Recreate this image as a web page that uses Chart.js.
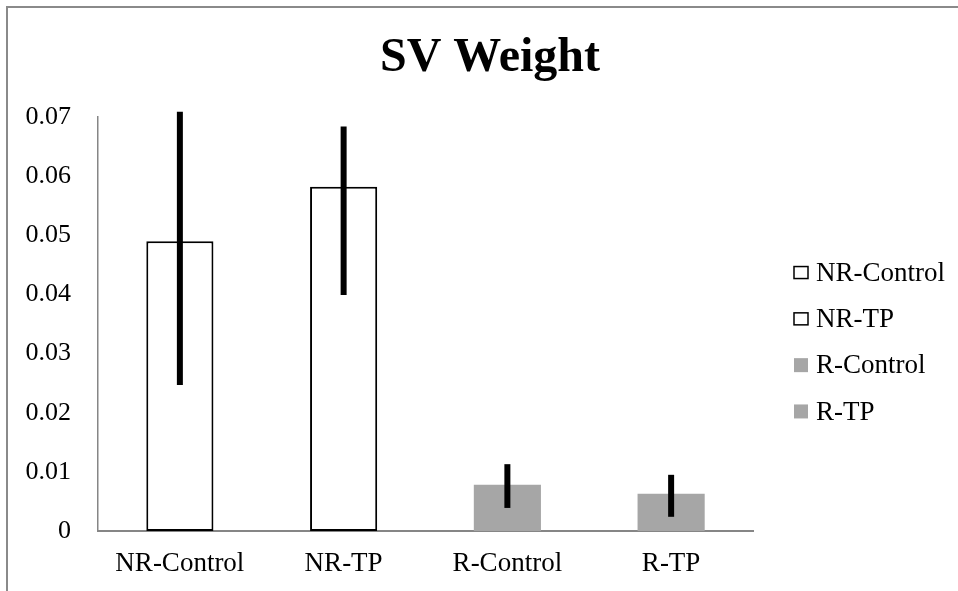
<!DOCTYPE html>
<html>
<head>
<meta charset="utf-8">
<script src="https://cdn.jsdelivr.net/npm/chart.js@4/dist/chart.umd.min.js"></script>
<style>
  html, body { margin: 0; padding: 0; background: #fff; }
  #wrap { width: 958px; height: 591px; }
</style>
</head>
<body>
<div id="wrap"><canvas id="c" width="958" height="591"></canvas></div>
<script>
const categories = ['NR-Control', 'NR-TP', 'R-Control', 'R-TP'];
const values = [0.0490, 0.0582, 0.0078, 0.0063];
const errLow = [0.0247, 0.0399, 0.0039, 0.0024];
const errHigh = [0.0709, 0.0684, 0.0113, 0.0095];
const yTickLabels = ['0', '0.01', '0.02', '0.03', '0.04', '0.05', '0.06', '0.07'];
const titleText = 'SV Weight';

const fillColors = ['#ffffff', '#ffffff', '#a6a6a6', '#a6a6a6'];
const borderColors = ['#000000', '#000000', '#a6a6a6', '#a6a6a6'];
const borderWidths = [2, 2, 0, 0];
const FONT = "'Liberation Serif', 'Times New Roman', serif";

const frame = {
  id: 'frame',
  beforeDraw(chart) {
    const ctx = chart.ctx;
    ctx.save();
    ctx.fillStyle = '#ffffff';
    ctx.fillRect(0, 0, chart.width, chart.height);
    ctx.strokeStyle = '#8a8a8a';
    ctx.lineWidth = 2;
    ctx.strokeRect(7, 7, chart.width + 20, chart.height + 20);
    ctx.restore();
  }
};

const errorBars = {
  id: 'errorBars',
  afterDatasetsDraw(chart) {
    const ctx = chart.ctx;
    const meta = chart.getDatasetMeta(0);
    const ys = chart.scales.y;
    ctx.save();
    ctx.strokeStyle = '#000000';
    ctx.lineWidth = 6;
    ctx.lineCap = 'butt';
    meta.data.forEach((bar, i) => {
      ctx.beginPath();
      ctx.moveTo(bar.x, ys.getPixelForValue(errLow[i]));
      ctx.lineTo(bar.x, ys.getPixelForValue(errHigh[i]));
      ctx.stroke();
    });
    ctx.restore();
  }
};

const sideLegend = {
  id: 'sideLegend',
  afterDraw(chart) {
    const ctx = chart.ctx;
    const a = chart.chartArea;
    const x0 = a.right + 41;
    const midY = (a.top + a.bottom) / 2 + 18;
    const step = 46.3;
    ctx.save();
    ctx.font = '27px ' + FONT;
    ctx.textBaseline = 'middle';
    ctx.textAlign = 'left';
    categories.forEach((name, i) => {
      const cy = midY + (i - 1.5) * step;
      if (borderWidths[i] > 0) {
        ctx.fillStyle = fillColors[i];
        ctx.fillRect(x0, cy - 6, 14, 12);
        ctx.strokeStyle = borderColors[i];
        ctx.lineWidth = 1.5;
        ctx.strokeRect(x0, cy - 6, 14, 12);
      } else {
        ctx.fillStyle = fillColors[i];
        ctx.fillRect(x0, cy - 7, 14, 14);
      }
      ctx.fillStyle = '#000000';
      ctx.fillText(name, x0 + 22, cy + 1);
    });
    ctx.restore();
  }
};

new Chart(document.getElementById('c'), {
  type: 'bar',
  data: {
    labels: categories,
    datasets: [{
      label: titleText,
      data: values,
      backgroundColor: fillColors,
      borderColor: borderColors,
      borderWidth: borderWidths,
      borderSkipped: false,
      barPercentage: 0.41,
      categoryPercentage: 1.0
    }]
  },
  options: {
    responsive: false,
    animation: false,
    devicePixelRatio: 1,
    layout: { padding: { left: 22, right: 0, top: 0, bottom: 0 } },
    plugins: {
      legend: { display: false },
      tooltip: { enabled: false },
      title: {
        display: true,
        text: titleText,
        color: '#000000',
        font: { family: FONT, size: 48, weight: 'bold', lineHeight: 1.2 },
        padding: { top: 30, bottom: 29.4 }
      }
    },
    scales: {
      x: {
        grid: { display: false, drawTicks: false },
        border: { display: true, color: '#868686', width: 2 },
        ticks: { color: '#000000', font: { family: FONT, size: 27 }, padding: 17, maxRotation: 0 },
        afterFit(s) { s.height = 60; }
      },
      y: {
        min: 0,
        max: 0.07,
        grid: { display: false, drawTicks: false },
        border: { display: true, color: '#868686', width: 1.5 },
        ticks: {
          stepSize: 0.01,
          color: '#000000',
          font: { family: FONT, size: 26 },
          padding: 27,
          callback: (v, i) => yTickLabels[i]
        },
        afterFit(s) { s.width = 76; }
      },
      side: {
        type: 'linear',
        position: 'right',
        display: true,
        grid: { display: false, drawTicks: false },
        border: { display: false },
        ticks: { display: false },
        afterFit(s) { s.width = 205; }
      }
    }
  },
  plugins: [frame, errorBars, sideLegend]
});
</script>
</body>
</html>
